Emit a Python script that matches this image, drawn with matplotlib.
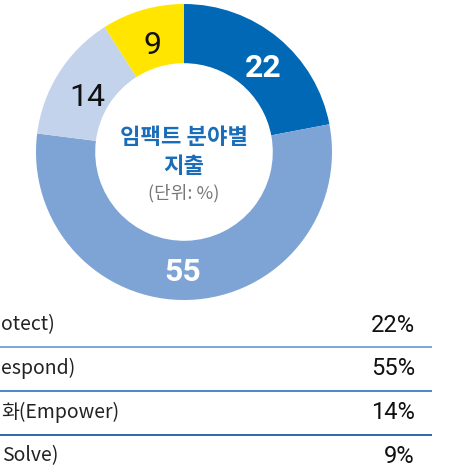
import matplotlib.pyplot as plt

plt.rcParams['font.family'] = ['Noto Sans CJK KR', 'DejaVu Sans']

# data (row labels are cut at the left edge in the source, keep the visible part)
categories = ['otect)', 'espond)', '화(Empower)', 'Solve)']
shares = [22, 55, 14, 9]
colors = ['#0068b4', '#7ea4d6', '#c4d3ec', '#ffe500']
label_colors = ['white', 'white', '#111111', '#111111']
label_bold = [True, True, False, False]
title_lines = ['임팩트 분야별', '지출']
unit_text = '(단위: %)'

num_font = 'Roboto'

W, H = 464, 469
fig = plt.figure(figsize=(W / 100, H / 100), dpi=100)
ax = fig.add_axes([0, 0, 1, 1])


def py(y):
    # pixel row (top origin) -> data y
    return H - y


cx, cy, r = 184, 152, 148
ax.pie(shares, colors=colors, startangle=90, counterclock=False,
       center=(cx, py(cy)), radius=r,
       wedgeprops=dict(width=r * 0.4, linewidth=0))

label_pos = [(263, 68), (183, 272), (87, 97), (153, 45)]
for val, (x, y), c, b in zip(shares, label_pos, label_colors, label_bold):
    ax.text(x, py(y), str(val), ha='center', va='center', color=c,
            fontsize=23, fontweight='bold' if b else 'normal', family=num_font)

ax.text(cx, py(137), title_lines[0], ha='center', va='center',
        color='#1a6db8', fontsize=16, fontweight='bold')
ax.text(cx, py(166), title_lines[1], ha='center', va='center',
        color='#1a6db8', fontsize=16, fontweight='bold')
ax.text(cx, py(193), unit_text, ha='center', va='center',
        color='#777777', fontsize=13)

# table below the donut
row_y = [325, 368, 412, 456]
text_start = [1, 1, 1, 2]
for name, val, y, xs in zip(categories, shares, row_y, text_start):
    ax.text(xs, py(y), name, ha='left', va='center', color='#222222', fontsize=14)
    ax.text(415, py(y), f'{val}%', ha='right', va='center', color='#111111',
            fontsize=17, family=num_font)

line_y = [347, 391, 435]
line_colors = ['#6d9fd3', '#3f7dbe', '#1f5d9e']
for y, lc in zip(line_y, line_colors):
    ax.plot([0, 432], [py(y), py(y)], color=lc, linewidth=1.3, solid_capstyle='butt')

ax.set_xlim(0, W)
ax.set_ylim(0, H)
ax.set_aspect('auto')
ax.axis('off')

fig.savefig('out.png', dpi=100, facecolor='white')
